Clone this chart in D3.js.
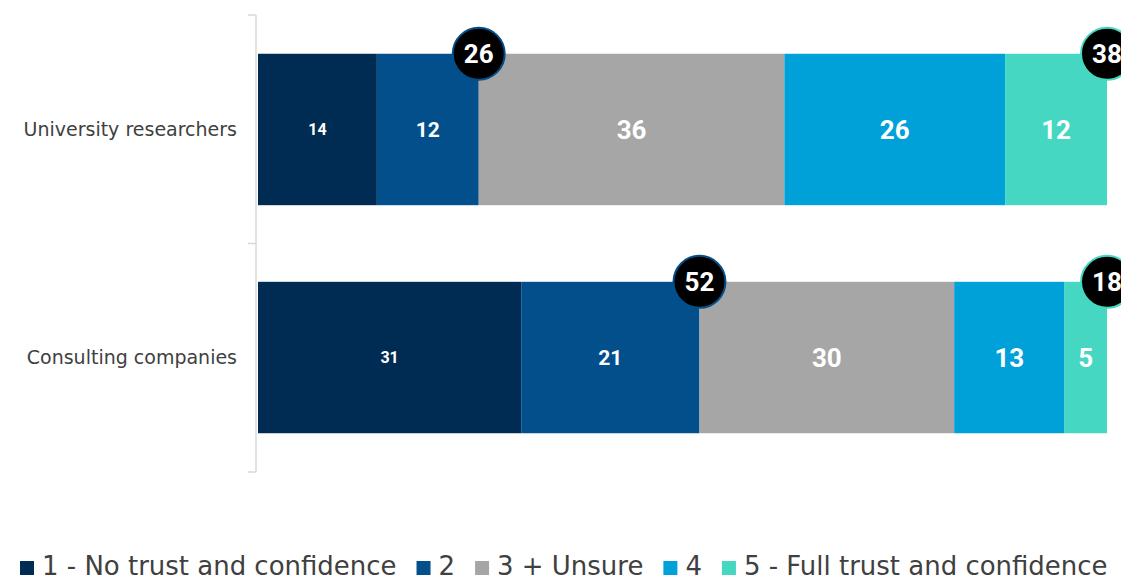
<!DOCTYPE html>
<html><head><meta charset="utf-8">
<script src="https://cdn.jsdelivr.net/npm/d3@7"></script>
<style>body{margin:0;background:#fff;}svg{display:block;}</style>
</head><body>
<svg id="c" width="1121" height="580"></svg>
<script>
const categories = ["University researchers", "Consulting companies"];
const seriesNames = ["1 - No trust and confidence", "2", "3 + Unsure", "4", "5 - Full trust and confidence"];
const s1 = [14, 31];
const s2 = [12, 21];
const s3 = [36, 30];
const s4 = [26, 13];
const s5 = [12, 5];
const bottomTwo = [26, 52];
const topTwo = [38, 18];

const colors = ["#002b52", "#034f8b", "#a6a6a6", "#00a1d9", "#45d7c1"];
const labelSizes = [16, 21, 26, 26, 26];
const series = [s1, s2, s3, s4, s5];

const svg = d3.select("#c");
const x = d3.scaleLinear().domain([0, 100]).range([258, 1107]);
const y = d3.scaleBand().domain(categories).range([15, 472]).paddingInner(0.336).paddingOuter(0.17);

// axis
const axisG = svg.append("g");
axisG.append("line").attr("x1", 256).attr("x2", 256).attr("y1", y.range()[0]).attr("y2", y.range()[1])
  .attr("stroke", "#d9d9d9").attr("stroke-width", 1.5);
const tickYs = [y.range()[0]];
for (let i = 0; i < categories.length - 1; i++) {
  tickYs.push((y(categories[i]) + y.bandwidth() + y(categories[i + 1])) / 2);
}
tickYs.push(y.range()[1]);
tickYs.forEach(t => axisG.append("line").attr("x1", 248).attr("x2", 256).attr("y1", t).attr("y2", t)
  .attr("stroke", "#d9d9d9").attr("stroke-width", 1.5));
categories.forEach(c => {
  svg.append("text").attr("x", 237).attr("y", y(c) + y.bandwidth() / 2).attr("dy", "0.35em")
    .attr("text-anchor", "end").attr("font-family", "DejaVu Sans").attr("font-size", 19)
    .attr("fill", "#404040").text(c);
});

// stacked bars
const stackData = categories.map((c, i) => {
  const o = { cat: c };
  seriesNames.forEach((s, j) => o[s] = series[j][i]);
  return o;
});
const stacked = d3.stack().keys(seriesNames)(stackData);
stacked.forEach((layer, j) => {
  const g = svg.append("g");
  g.selectAll("rect").data(layer).join("rect")
    .attr("x", d => x(d[0])).attr("width", d => x(d[1]) - x(d[0]))
    .attr("y", d => y(d.data.cat)).attr("height", y.bandwidth())
    .attr("fill", colors[j]);
  g.selectAll("text").data(layer).join("text")
    .attr("x", d => (x(d[0]) + x(d[1])) / 2).attr("y", d => y(d.data.cat) + y.bandwidth() / 2)
    .attr("dy", "0.36em").attr("text-anchor", "middle")
    .attr("font-family", "Roboto").attr("font-weight", "bold").attr("font-size", labelSizes[j])
    .attr("fill", "#fff").text(d => d[1] - d[0]);
});

// circles
function bubble(cx, cy, val, stroke) {
  svg.append("circle").attr("cx", cx).attr("cy", cy).attr("r", 26)
    .attr("fill", "#000").attr("stroke", stroke).attr("stroke-width", 2);
  svg.append("text").attr("x", cx).attr("y", cy).attr("dy", "0.36em").attr("text-anchor", "middle")
    .attr("font-family", "Roboto").attr("font-weight", "bold").attr("font-size", 26)
    .attr("fill", "#fff").text(val);
}
categories.forEach((c, i) => {
  bubble(x(stacked[1][i][1]), y(c), bottomTwo[i], colors[1]);
  bubble(x(stacked[4][i][1]), y(c), topTwo[i], colors[4]);
});

// legend
const lg = svg.append("g");
const gap = 20;
function drawLegend(fs) {
  lg.selectAll("*").remove();
  let px = 20;
  seriesNames.forEach((s, j) => {
    lg.append("rect").attr("x", px).attr("y", 561).attr("width", 14).attr("height", 14).attr("fill", colors[j]);
    const t = lg.append("text").attr("x", px + 22).attr("y", 575)
      .attr("font-family", "DejaVu Sans").attr("font-size", fs).attr("fill", "#404040").text(s);
    px += 22 + t.node().getComputedTextLength() + gap;
  });
  return px - gap - 20;
}
const w0 = drawLegend(25);
drawLegend(25 * Math.min(1095 / w0, 1.1));
</script>
</body></html>
